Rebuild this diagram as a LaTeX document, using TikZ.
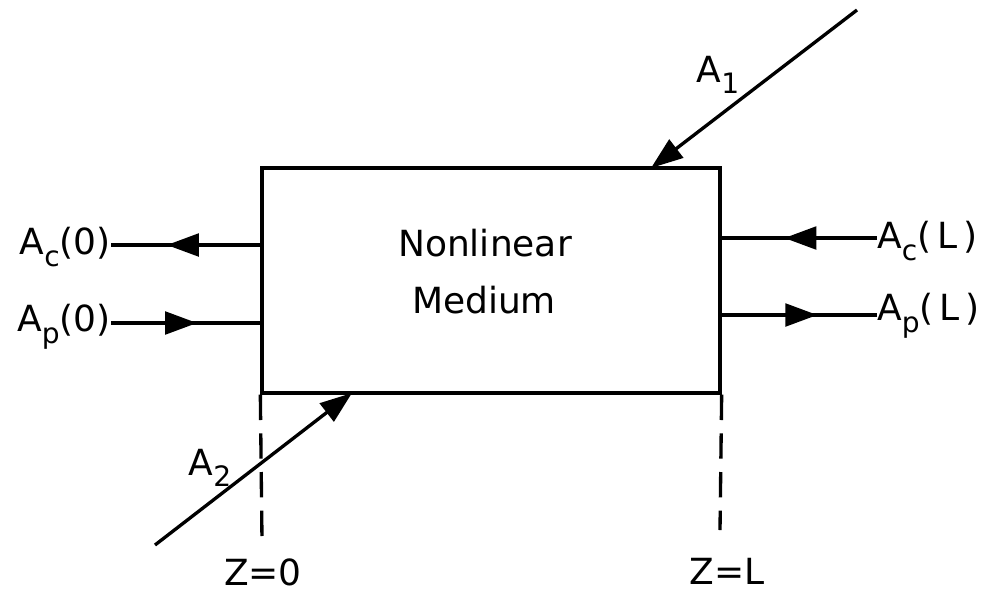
\documentclass[tikz,border=0pt]{standalone}
\usepackage{fontspec}
\setmainfont{DejaVu Sans}
\usetikzlibrary{arrows.meta,decorations.markings}
\newcommand\sbs[1]{\raisebox{-0.32em}{\scalebox{0.78}{#1}}}
\tikzset{
  ln/.style={line width=2.5pt},
  lbl/.style={font=\fontsize{27}{30}\selectfont, inner sep=0pt},
  tip/.style={-{Triangle[length=24pt,width=17pt]}},
  midarrow/.style={postaction={decorate,decoration={markings,
      mark=at position #1 with {\arrow{Triangle[length=24pt,width=17pt]}}}}},
  dsh/.style={line width=2.5pt, dash pattern=on 19pt off 10pt}
}
\begin{document}
\begin{tikzpicture}[x=0.75pt,y=-0.75pt]
\useasboundingbox (0,0) rectangle (999,594);
% box
\node[draw, ln, minimum width=343.5pt, minimum height=168.75pt, inner sep=0pt] (box) at (491,280.5) {};
\node[lbl] (t1) at (485,243) {Nonlinear};
\node[lbl] (t2) at (484,300) {Medium};
% left side
\coordinate (bl1) at (262,245);
\coordinate (bl2) at (262,323);
\node[lbl, anchor=east] (ac0) at (111,247) {A\sbs{c}(0)};
\node[lbl, anchor=east] (ap0) at (111,327) {A\sbs{p}(0)};
\draw[ln, midarrow=0.63] (bl1) -- (bl1 -| ac0.east);
\draw[ln, midarrow=0.57] (bl2 -| ap0.east) -- (bl2);
% right side
\coordinate (br1) at (720,238);
\coordinate (br2) at (720,315);
\node[lbl, anchor=west] (acl) at (877,241) {A\sbs{c}(\,L\,)};
\node[lbl, anchor=west] (apl) at (877,316) {A\sbs{p}(\,L\,)};
\draw[ln, midarrow=0.59] (br1 -| acl.west) -- (br1);
\draw[ln, midarrow=0.62] (br2) -- (br2 -| apl.west);
% oblique beams
\coordinate (a1s) at (857,10);
\coordinate (a1e) at (651,168);
\draw[ln, tip] (a1s) -- (a1e);
\node[lbl] (a1) at (718,75) {A\sbs{1}};
\coordinate (a2s) at (155,545);
\coordinate (a2e) at (352,393);
\draw[ln, tip] (a2s) -- (a2e);
\node[lbl] (a2) at (210,468) {A\sbs{2}};
% dashed markers
\coordinate (z0) at (262,540);
\coordinate (zl) at (720,530);
\draw[dsh] (box.south west) -- (z0);
\draw[dsh] (box.south east) -- (zl);
\node[lbl] (z0l) at (263,572) {Z=0};
\node[lbl] (zll) at (727,571) {Z=L};
\end{tikzpicture}
\end{document}
